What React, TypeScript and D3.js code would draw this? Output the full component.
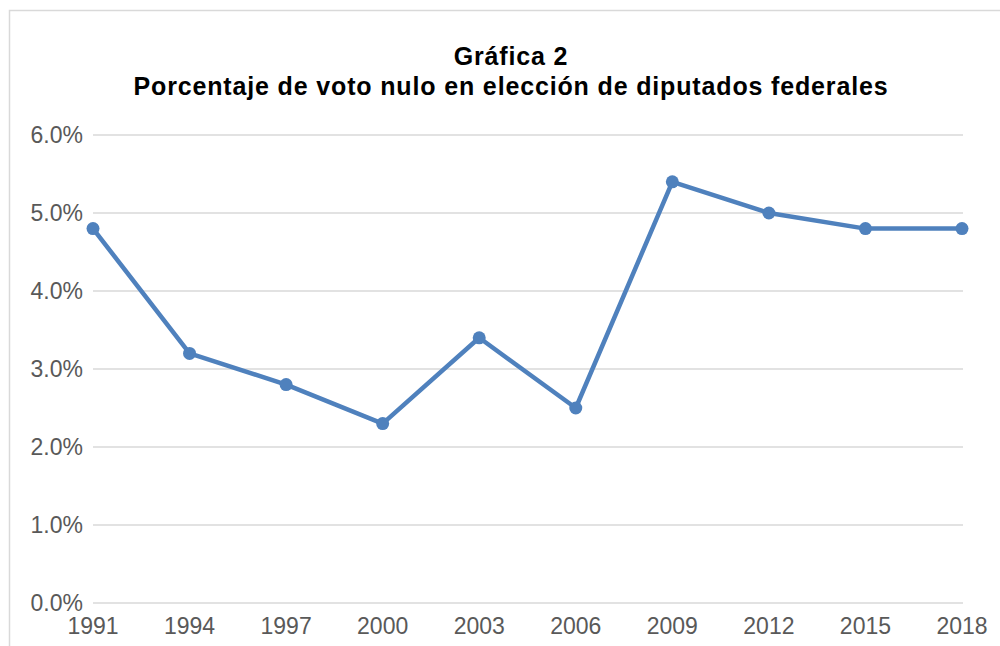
import React from 'react'
import * as d3 from 'd3'

const years = ['1991', '1994', '1997', '2000', '2003', '2006', '2009', '2012', '2015', '2018']
const nullVote = [4.8, 3.2, 2.8, 2.3, 3.4, 2.5, 5.4, 5.0, 4.8, 4.8]
const yTicks = [0, 1, 2, 3, 4, 5, 6]
const titleLines = ['Gráfica 2', 'Porcentaje de voto nulo en elección de diputados federales']

const width = 1000
const height = 646
const font = '"Liberation Sans", Arial, sans-serif'

export default function App() {
  const x = d3.scalePoint()
    .domain(years)
    .range([93, 962])
  const y = d3.scaleLinear()
    .domain([0, 6])
    .range([603, 135])

  const line = d3.line<number>()
    .x((d, i) => x(years[i]) as number)
    .y((d) => y(d))

  return (
    <svg width={width} height={height} style={{ position: 'absolute', left: 0, top: 0 }}>
      <rect x={0} y={0} width={width} height={height} fill="#fff" />
      <rect x={9.5} y={10.5} width={1100} height={800} fill="none" stroke="#d9d9d9" strokeWidth={1.5} />

      {titleLines.map((t, i) => (
        <text
          key={t}
          x={511} y={65 + i * 30}
          textAnchor="middle"
          fontFamily={font} fontWeight="bold" fontSize={25}
          letterSpacing={0.85}
          fill="#000"
        >
          {t}
        </text>
      ))}

      {yTicks.map((t) => (
        <g key={t}>
          <line x1={93} x2={963} y1={y(t)} y2={y(t)} stroke="#d9d9d9" strokeWidth={1.5} />
          <text
            x={83} y={y(t) + 8}
            textAnchor="end"
            fontFamily={font} fontSize={23}
            fill="#595959"
          >
            {t.toFixed(1)}%
          </text>
        </g>
      ))}

      {years.map((yr) => (
        <text
          key={yr}
          x={x(yr)} y={634}
          textAnchor="middle"
          fontFamily={font} fontSize={23}
          fill="#595959"
        >
          {yr}
        </text>
      ))}

      <path d={line(nullVote) || ''} fill="none" stroke="#4f81bd" strokeWidth={4.5} strokeLinejoin="round" />
      {nullVote.map((v, i) => (
        <circle key={years[i]} cx={x(years[i])} cy={y(v)} r={6.5} fill="#4f81bd" />
      ))}
    </svg>
  )
}
